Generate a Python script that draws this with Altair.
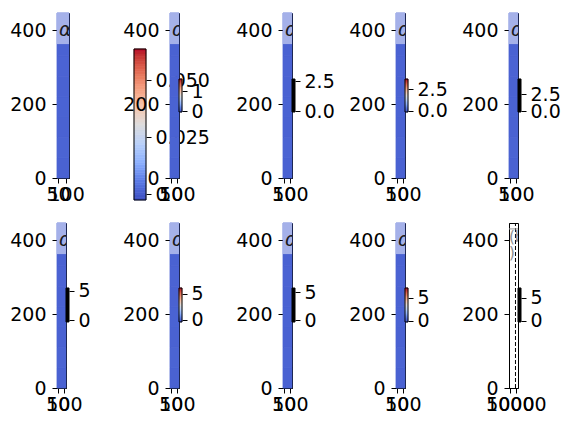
import altair as alt
import pandas as pd

# ---------------- data ----------------
COOLWARM = ["#3b4cc0", "#5b7ae5", "#8db0fe", "#b8d0f9", "#dddddd",
            "#f5c4ac", "#f49a7b", "#de604d", "#b40426"]

# image rows (bottom -> top), near-uniform low values of the field
heat_y0 = [0, 55, 110, 165, 220, 275, 330, 390]
heat_y1 = [55, 110, 165, 220, 275, 330, 390, 446]
heat_v = [0.06, 0.065, 0.06, 0.062, 0.06, 0.064, 0.06, 0.06]

x_extent = [43, 118]
x_extent_last = [4300, 11800]
y_extent = [0, 446]
x_ticks = [50, 100]
x_ticks_last = [5000, 10000]
y_ticks = [0, 200, 400]

label_box = [362, 446]
label_y = 400
label_text = "α"

# big colorbar of panel 1
big_cb_range = [-0.00263, 0.0636]
big_cb_domain = [-0.00307, 0.07939]
big_cb_ticks = [0, 0.025, 0.05]

# small colorbars of panels 2..10
cb_style = ["cool", "black", "cool", "black", "black", "cool", "black", "cool", "black"]
cb_lo = [-0.05, -0.083, -0.174, -0.147, -0.34, -0.38, -0.36, -0.22, -0.22]
cb_hi = [1.6, 2.667, 3.66, 4.71, 5.52, 6.15, 5.71, 7.17, 7.17]
cb_domain = [[-3.35, 4.9], [-5.583, 8.167], [-7.85, 11.34], [-9.85, 14.41],
             [-11.72, 16.72], [-13.08, 18.65], [-12.14, 17.32], [-14.57, 21.3], [-14.57, 21.3]]
cb_ticks = [[0, 1], [0, 2.5], [0, 2.5], [0, 2.5], [0, 5], [0, 5], [0, 5], [0, 5], [0, 5]]
cb_format = ["d", ".1f", ".1f", ".1f", "d", "d", "d", "d", "d"]

gradient_steps = [i / 60 for i in range(61)]

# panel 10 annotations
dash_x = 9700
last_text = ["(b", ")"]
last_text_y = [408, 366]
last_box_y = 430

FS = 19
cscale = alt.Scale(domain=[0, 1], range=COOLWARM)


def ax_x(ticks):
    return alt.Axis(values=ticks, format="d", title=None, grid=False, tickSize=5,
                    labelPadding=2, labelFlush=False, labelOverlap=False, labelAngle=0)


def ax_y():
    return alt.Axis(values=y_ticks, format="d", title=None, grid=False, tickSize=5,
                    labelPadding=6, labelFlush=False, labelOverlap=False)


def image_panel(width, xdom, xticks, last=False):
    xs = alt.Scale(domain=xdom, nice=False, zero=False)
    ys = alt.Scale(domain=y_extent, nice=False, zero=False)
    layers = []
    if not last:
        n = len(heat_y0)
        df = pd.DataFrame({"x0": [xdom[0]] * n, "x1": [xdom[1]] * n,
                           "y0": heat_y0, "y1": heat_y1, "v": heat_v})
        layers.append(alt.Chart(df).mark_rect(strokeWidth=0.8).encode(
            x=alt.X("x0:Q", scale=xs, axis=ax_x(xticks)), x2="x1",
            y=alt.Y("y0:Q", scale=ys, axis=ax_y()), y2="y1",
            color=alt.Color("v:Q", scale=cscale, legend=None),
            stroke=alt.Stroke("v:Q", scale=cscale, legend=None)))
        band = pd.DataFrame({"x0": [xdom[0]], "x1": [xdom[1]],
                             "y0": [label_box[0]], "y1": [label_box[1]]})
        layers.append(alt.Chart(band).mark_rect(color="white", opacity=0.5).encode(
            x="x0:Q", x2="x1", y="y0:Q", y2="y1"))
        t = pd.DataFrame({"x": [xdom[0]], "y": [label_y], "t": [label_text]})
        layers.append(alt.Chart(t).mark_text(align="left", baseline="middle", dx=2,
                                             fontSize=FS, fontStyle="italic",
                                             color="#1a1a1a", clip=True).encode(
            x="x:Q", y="y:Q", text="t:N"))
    else:
        d = pd.DataFrame({"x": [dash_x], "y0": [y_extent[0]], "y1": [y_extent[1]]})
        layers.append(alt.Chart(d).mark_rule(color="black", strokeDash=[4, 2],
                                             strokeWidth=1).encode(
            x=alt.X("x:Q", scale=xs, axis=ax_x(xticks)),
            y=alt.Y("y0:Q", scale=ys, axis=ax_y()), y2="y1"))
        h = pd.DataFrame({"x0": [xdom[0]], "x1": [xdom[1]], "y": [last_box_y]})
        layers.append(alt.Chart(h).mark_rule(color="#999999", strokeWidth=1).encode(
            x="x0:Q", x2="x1", y="y:Q"))
        t = pd.DataFrame({"x": [xdom[0]] * 2, "y": last_text_y, "t": last_text})
        layers.append(alt.Chart(t).mark_text(align="left", baseline="middle", dx=0,
                                             fontSize=15, color="#8c8c8c",
                                             clip=True).encode(
            x="x:Q", y="y:Q", text="t:N"))
    return alt.layer(*layers).properties(
        width=width, height=165,
        view=alt.ViewBackground(stroke="black", strokeWidth=1))


def colorbar(lo, hi, domain, ticks, style, width=3, height=165, fmt="d", label_expr=None):
    ys = alt.Scale(domain=domain, nice=False, zero=False)
    axis_kw = dict(orient="right", values=ticks, title=None, grid=False, domain=False,
                   tickSize=5, labelPadding=4, labelFlush=False, labelOverlap=False)
    if label_expr:
        axis_kw["labelExpr"] = label_expr
    else:
        axis_kw["format"] = fmt
    axis = alt.Axis(**axis_kw)
    if style == "cool":
        segs = pd.DataFrame({
            "y0": [lo + f * (hi - lo) for f in gradient_steps[:-1]],
            "y1": [lo + f * (hi - lo) for f in gradient_steps[1:]],
            "t": [(a + b) / 2 for a, b in zip(gradient_steps[:-1], gradient_steps[1:])],
        })
        fill = alt.Chart(segs).mark_rect(strokeWidth=0.6).encode(
            y=alt.Y("y0:Q", scale=ys, axis=axis), y2="y1",
            color=alt.Color("t:Q", scale=cscale, legend=None),
            stroke=alt.Stroke("t:Q", scale=cscale, legend=None))
    else:
        segs = pd.DataFrame({"y0": [lo], "y1": [hi]})
        fill = alt.Chart(segs).mark_rect(color="black").encode(
            y=alt.Y("y0:Q", scale=ys, axis=axis), y2="y1")
    frame = alt.Chart(pd.DataFrame({"y0": [lo], "y1": [hi]})).mark_rect(
        fillOpacity=0, stroke="black", strokeWidth=1).encode(y="y0:Q", y2="y1")
    return alt.layer(fill, frame).properties(width=width, height=height)


def spacer(w):
    return alt.Chart(pd.DataFrame({"a": [0]})).mark_point(opacity=0).properties(
        width=w, height=1)


img1 = image_panel(12, x_extent, x_ticks)
bigcb = colorbar(big_cb_range[0], big_cb_range[1], big_cb_domain, big_cb_ticks, "cool",
                 width=12, height=188,
                 label_expr="datum.value == 0 ? '0' : format(datum.value, '.3f')")

imgs, cbs = [], []
for i in range(9):
    last = (i == 8)
    imgs.append(image_panel(9, x_extent_last if last else x_extent,
                            x_ticks_last if last else x_ticks, last=last))
    cbs.append(colorbar(cb_lo[i], cb_hi[i], cb_domain[i], cb_ticks[i], cb_style[i],
                        fmt=cb_format[i]))

GAP = 100.5
row1_items = [img1, spacer(65), bigcb, spacer(24),
              imgs[0], cbs[0], spacer(GAP), imgs[1], cbs[1], spacer(GAP),
              imgs[2], cbs[2], spacer(GAP), imgs[3], cbs[3]]
row2_items = [imgs[4], cbs[4], spacer(GAP), imgs[5], cbs[5], spacer(GAP),
              imgs[6], cbs[6], spacer(GAP), imgs[7], cbs[7], spacer(GAP),
              imgs[8], cbs[8]]

row1 = alt.hconcat(*row1_items, spacing=0, bounds="flush")
row2 = alt.hconcat(*row2_items, spacing=0, bounds="flush")

chart = alt.vconcat(row1, row2, spacing=15).properties(
    padding={"left": 9, "top": 10, "right": 5, "bottom": 5},
    background="white",
).configure(font="DejaVu Sans").configure_view(stroke="transparent").configure_axis(
    labelFont="DejaVu Sans", labelFontSize=FS, labelColor="black",
    tickColor="black", domainColor="black", tickWidth=1, domainWidth=1)

chart.save("out.html", embed_options={"renderer": "svg", "actions": False})
